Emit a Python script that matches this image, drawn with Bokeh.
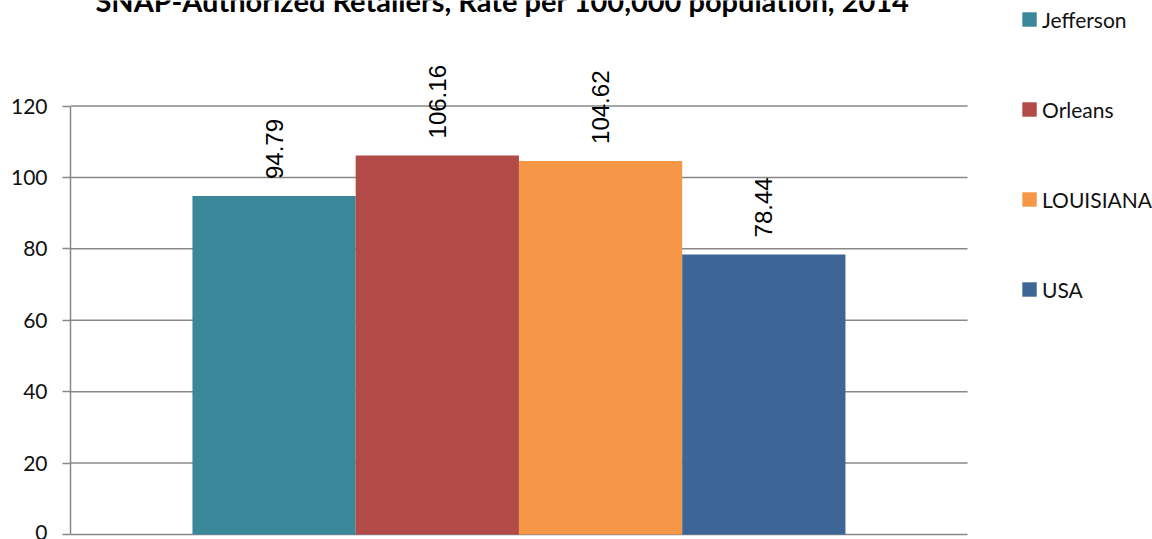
import math
from bokeh.plotting import figure
from bokeh.models import (ColumnDataSource, Range1d, LabelSet, Label, Legend,
                          LegendItem, FixedTicker)
from bokeh.core.properties import value
from bokeh.embed import file_html
from bokeh.resources import INLINE

# ---- data ----
series = ["Jefferson", "Orleans", "LOUISIANA", "USA"]
values = [94.79, 106.16, 104.62, 78.44]
colors = ["#3A8799", "#B24B48", "#F69748", "#3D6697"]
y_ticks = [0, 20, 40, 60, 80, 100, 120]
title_text = "SNAP-Authorized Retailers, Rate per 100,000 population, 2014"

# plot-area extent along x (in bar units): bars sit at 0..3, width 1
X0, X1 = -1.247, 4.248
PX_PER_X = 163.25
X_END = X0 + (1152 - 70) / PX_PER_X
Y_PER_PX = 120 / 428.5
Y0 = -5 * Y_PER_PX
Y1 = Y0 + 539 * Y_PER_PX

positions = list(range(len(series)))
src = ColumnDataSource(dict(
    x=positions,
    top=values,
    name=series,
    color=colors,
    label=[f"{v:.2f}" for v in values],
))
grid_src = ColumnDataSource(dict(
    x0=[X0] * len(y_ticks), x1=[X1] * len(y_ticks),
    y=y_ticks,
))

p = figure(width=1152, height=539, output_backend="svg", toolbar_location=None,
           x_range=Range1d(X0, X_END), y_range=Range1d(Y0, Y1),
           min_border_left=70, min_border_right=0,
           min_border_top=0, min_border_bottom=0)
p.outline_line_color = None
p.background_fill_color = "white"
p.border_fill_color = "white"
p.xgrid.visible = False
p.ygrid.visible = False
p.xaxis.visible = False

# horizontal gridlines across the plot area only
p.segment(x0="x0", y0="y", x1="x1", y1="y", source=grid_src,
          line_color="#888888", line_width=1.5)

r = p.vbar(x="x", top="top", width=1.0, bottom=0, fill_color="color",
           line_color=None, source=src)

# y axis
yax = p.yaxis[0]
yax.ticker = FixedTicker(ticks=y_ticks)
yax.bounds = (0, 120)
yax.axis_line_color = "#888888"
yax.axis_line_width = 1.5
yax.major_tick_line_color = "#888888"
yax.major_tick_line_width = 1.5
yax.major_tick_out = 8
yax.major_tick_in = 0
yax.minor_tick_line_color = None
yax.major_label_standoff = 15
yax.major_label_text_font = "Lato"
yax.major_label_text_font_size = "21px"
yax.major_label_text_color = "#111111"

# data labels
labels = LabelSet(x="x", y="top", text="label", source=src,
                  angle=math.pi / 2, text_align="left", text_baseline="middle",
                  y_offset=17, text_font=value("Liberation Sans"),
                  text_font_size=value("24px"), text_color="#000000")
p.add_layout(labels)

# title (partially clipped at top, like the reference)
title = Label(x=1.399, y=149.6, text=title_text, text_align="center",
              text_baseline="alphabetic", text_font="Lato",
              text_font_style="bold", text_font_size="29px",
              text_color="#000000")
p.add_layout(title)

# legend
items = [LegendItem(label=n, renderers=[r], index=i) for i, n in enumerate(series)]
legend = Legend(items=items, location="top_right", orientation="vertical",
                glyph_width=18, glyph_height=18, label_height=38, spacing=52,
                label_standoff=4, padding=7, margin=0,
                border_line_color=None, background_fill_alpha=0,
                label_text_font="Lato", label_text_font_size="21px",
                label_text_color="#111111")
p.add_layout(legend)

open("out.html", "w").write(file_html(p, INLINE))
